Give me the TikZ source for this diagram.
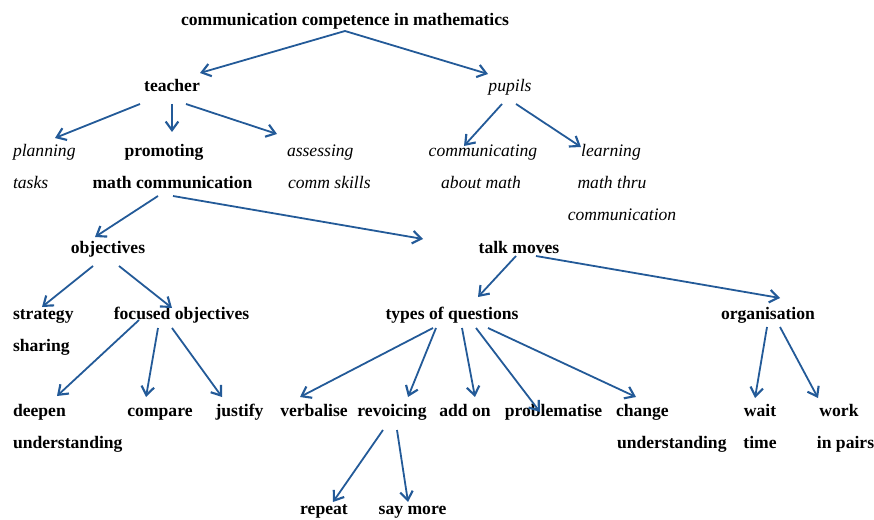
\documentclass[tikz,border=0pt]{standalone}
\usepackage{fontspec}
\setmainfont{Liberation Serif}
\usetikzlibrary{arrows.meta,calc}
\definecolor{arrowblue}{RGB}{35,90,152}
\begin{document}
\begin{tikzpicture}[x=0.75pt,y=-0.75pt,
  lbl/.style={font=\fontsize{13.2}{15}\selectfont, inner sep=0pt, outer sep=0pt, text=black},
  bl/.style={lbl, font=\fontsize{13.2}{15}\selectfont\bfseries, anchor=base},
  blw/.style={bl, anchor=base west},
  il/.style={lbl, font=\fontsize{13.2}{15}\selectfont\itshape, anchor=base},
  ilw/.style={il, anchor=base west},
  arr/.style={draw=arrowblue, line width=1.35pt, -{Straight Barb[length=6.5pt,width=9.5pt,line width=1.6pt]}}]
\useasboundingbox (0,0) rectangle (874,520);
% nodes
\node[bl] (top) at (345,26) {communication competence in mathematics};
\node[bl] (teacher) at (172,92) {teacher};
\node[il] (pupils) at (510,92) {pupils};
\node[ilw] (planning) at (13,157) {planning};
\node[ilw] (tasks) at (13,189) {tasks};
\node[bl] (promoting) at (164,157) {promoting};
\node[bl] (mathcomm) at (172.5,189) {math communication};
\node[ilw] (assessing) at (287,157) {assessing};
\node[ilw] (commskills) at (288,189) {comm skills};
\node[il] (communicating) at (483,157) {communicating};
\node[il] (aboutmath) at (481,189) {about math};
\node[il] (learning) at (611,157) {learning};
\node[il] (maththru) at (612,189) {math thru};
\node[il] (communication) at (622,221) {communication};
\node[bl] (objectives) at (108,253) {objectives};
\node[bl] (talk) at (519,253) {talk moves};
\node[blw] (strategy) at (13,319) {strategy};
\node[blw] (sharing) at (13,351) {sharing};
\node[bl] (focused) at (181.5,319) {focused objectives};
\node[bl] (types) at (452,319) {types of questions};
\node[bl] (organisation) at (768,319) {organisation};
\node[blw] (deepen) at (13,416) {deepen};
\node[blw] (understanding) at (13,448) {understanding};
\node[bl] (compare) at (160,416) {compare};
\node[bl] (justify) at (239.5,416) {justify};
\node[bl] (verbalise) at (314,416) {verbalise};
\node[bl] (revoicing) at (392,416) {revoicing};
\node[bl] (addon) at (465,416) {add on};
\node[bl] (problematise) at (553.5,416) {problematise};
\node[blw] (change) at (616,416) {change};
\node[blw] (changeund) at (617,448) {understanding};
\node[bl] (wait) at (760,416) {wait};
\node[bl] (time) at (760,448) {time};
\node[bl] (work) at (839,416) {work};
\node[bl] (inpairs) at (845.5,448) {in pairs};
\node[bl] (repeat) at (324,514) {repeat};
\node[bl] (saymore) at (412.5,514) {say more};
% connectors
\draw[arr] ($(top.base)+(0,5)$) -- ($(teacher.base)+(28,-19)$);
\draw[arr] ($(top.base)+(0,5)$) -- ($(pupils.base)+(-22,-18)$);
\draw[arr] ($(teacher.base)+(-32,12)$) -- ($(planning.base west)+(42,-19)$);
\draw[arr] ($(teacher.base)+(0,12)$) -- ($(promoting.base)+(8,-25)$);
\draw[arr] ($(teacher.base)+(14,12)$) -- ($(assessing.base west)+(-10,-23)$);
\draw[arr] ($(pupils.base)+(-8,12)$) -- ($(communicating.base)+(-19,-11)$);
\draw[arr] ($(pupils.base)+(6,12)$) -- ($(learning.base)+(-30,-10)$);
\draw[arr] ($(mathcomm.base)+(-14.5,7)$) -- ($(objectives.base)+(-13,-16)$);
\draw[arr] ($(mathcomm.base)+(0.5,7)$) -- ($(talk.base)+(-96,-14)$);
\draw[arr] ($(objectives.base)+(-15,13)$) -- ($(strategy.base west)+(29,-12)$);
\draw[arr] ($(objectives.base)+(11,13)$) -- ($(focused.base)+(-9.5,-11)$);
\draw[arr] ($(focused.base)+(-42.5,1)$) -- ($(deepen.base west)+(44,-20)$);
\draw[arr] ($(focused.base)+(-23.5,9)$) -- ($(compare.base)+(-14,-19)$);
\draw[arr] ($(focused.base)+(-9.5,9)$) -- ($(justify.base)+(-17.5,-19)$);
\draw[arr] ($(talk.base)+(-3,3)$) -- ($(types.base)+(26,-22)$);
\draw[arr] ($(talk.base)+(17,3)$) -- ($(organisation.base)+(12,-21)$);
\draw[arr] ($(types.base)+(-19,9)$) -- ($(verbalise.base)+(-14,-19)$);
\draw[arr] ($(types.base)+(-16,9)$) -- ($(revoicing.base)+(16,-19)$);
\draw[arr] ($(types.base)+(10,9)$) -- ($(addon.base)+(10,-19)$);
\draw[arr] ($(types.base)+(24,9)$) -- ($(problematise.base)+(-13.5,-4)$);
\draw[arr] ($(types.base)+(36,9)$) -- ($(change.base west)+(20,-19)$);
\draw[arr] ($(organisation.base)+(-1,8)$) -- ($(wait.base)+(-5,-18)$);
\draw[arr] ($(organisation.base)+(12,8)$) -- ($(work.base)+(-21,-18)$);
\draw[arr] ($(revoicing.base)+(-9,14)$) -- ($(repeat.base)+(9,-12)$);
\draw[arr] ($(revoicing.base)+(5,14)$) -- ($(saymore.base)+(-4.5,-12)$);
\end{tikzpicture}
\end{document}
